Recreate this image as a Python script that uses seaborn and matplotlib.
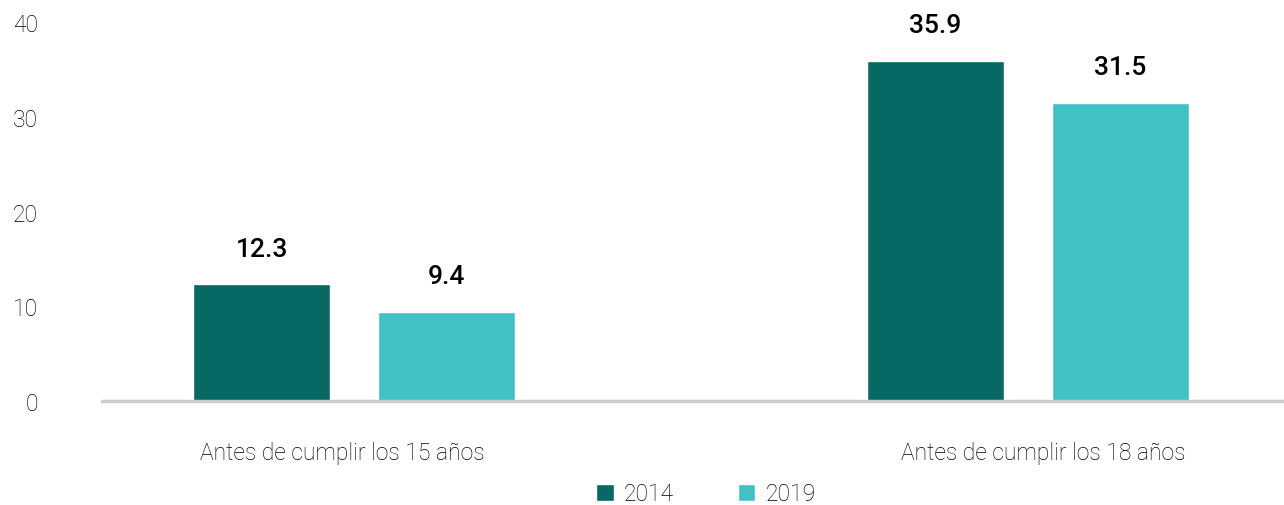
import pandas as pd
import seaborn as sns
import matplotlib.pyplot as plt
import matplotlib.transforms as mtransforms

# Datos
categorias = ["Antes de cumplir los 15 años", "Antes de cumplir los 18 años"]
anios = ["2014", "2019"]
valores_2014 = [12.3, 35.9]
valores_2019 = [9.4, 31.5]

df = pd.DataFrame({
    "categoria": categorias * 2,
    "anio": [anios[0]] * 2 + [anios[1]] * 2,
    "valor": valores_2014 + valores_2019,
})

colores = {"2014": "#076864", "2019": "#42C1C4"}

sns.set_theme(style="white")
plt.rcParams["font.family"] = ["Roboto", "DejaVu Sans"]

fig = plt.figure(figsize=(12.84, 5.06), dpi=100)
ax = fig.add_axes([0.0794, 0.2055, 0.9206, 0.749])

sns.barplot(data=df, x="categoria", y="valor", hue="anio", palette=colores,
            width=0.548, gap=0.26, saturation=1, ax=ax, legend=True)

for cont in ax.containers:
    ax.bar_label(cont, fmt="%.1f", padding=17, fontsize=19, fontweight="medium",
                 color="#000000", clip_on=False)

ax.set_ylim(0, 40)
ax.set_xlim(-0.374, 1.38)
ax.set_yticks([0, 10, 20, 30, 40])
ax.set_xlabel("")
ax.set_ylabel("")
for s in ["top", "right", "left"]:
    ax.spines[s].set_visible(False)
ax.spines["bottom"].set_color("#cccccc")
ax.spines["bottom"].set_linewidth(2.5)
ax.tick_params(axis="y", length=0, pad=46, labelsize=16.5, labelcolor="#000000")
ax.tick_params(axis="x", length=0, pad=29, labelsize=16.5, labelcolor="#000000")
for lbl in ax.get_xticklabels() + ax.get_yticklabels():
    lbl.set_fontweight("light")

# pequeño desplazamiento de las etiquetas de categoría, como en el original
for lbl, dx in zip(ax.get_xticklabels(), [-0.12, 0.15]):
    lbl.set_transform(lbl.get_transform() +
                      mtransforms.ScaledTranslation(dx, 0, fig.dpi_scale_trans))

handles, labels = ax.get_legend_handles_labels()
ax.legend_.remove()
leg = fig.legend(handles, labels, loc="center", bbox_to_anchor=(0.55, 0.022),
                 ncol=2, frameon=False, fontsize=16.5, handlelength=0.75,
                 handleheight=0.75, columnspacing=2.8, handletextpad=0.45)
for t in leg.get_texts():
    t.set_fontweight("light")
    t.set_color("#000000")

fig.savefig("out.png", dpi=100)
